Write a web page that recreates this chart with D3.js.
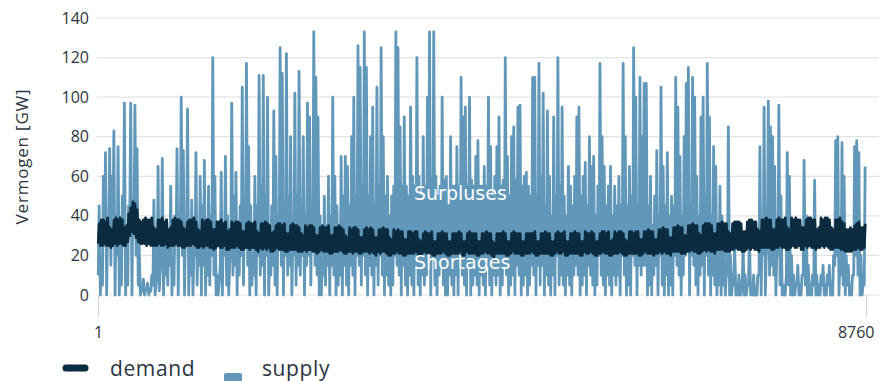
<!DOCTYPE html>
<html>
<head>
<meta charset="utf-8">
<script src="https://cdn.jsdelivr.net/npm/d3@7"></script>
<style>
  html, body { margin: 0; padding: 0; background: #ffffff; }
  svg { display: block; }
</style>
</head>
<body>
<svg id="chart" width="879" height="381"></svg>
<script>
// Hourly year profile, 1..8760 hours
const hourRange = [1, 8760];
const yTicks = [0, 20, 40, 60, 80, 100, 120, 140];
const xTickLabels = ["1", "8760"];
const legendLabels = ["demand", "supply"];
const areaLabels = ["Surpluses", "Shortages"];

// Supply, daytime maximum per day (GW)
const supplyPeak = [
  45,20,60,72,35,74,60,83,40,75,
  25,50,97,20,45,97,40,96,74,25,
  3,8,2,6,3,10,48,5,65,12,
  69,25,38,30,55,15,40,74,40,100,
  73,35,94,25,48,20,72,35,60,45,
  68,30,55,40,120,60,10,5,62,35,
  70,40,15,97,50,62,35,45,105,40,
  117,75,45,20,60,45,111,55,111,50,
  100,20,45,93,70,40,125,112,45,122,
  50,80,25,102,50,113,45,80,40,97,
  90,45,133,110,90,40,15,50,35,60,
  40,100,60,45,30,70,50,70,65,45,
  80,100,50,126,115,55,133,115,50,80,
  95,45,105,55,125,80,50,60,40,50,
  55,133,125,85,55,90,55,50,95,60,
  55,120,60,50,80,55,100,133,58,133,
  60,50,55,100,58,60,45,80,55,55,
  75,55,110,90,95,55,100,58,55,70,
  78,55,55,65,55,100,75,50,60,75,
  90,55,58,120,70,50,80,85,58,95,
  96,55,60,62,55,50,110,110,50,117,
  60,102,45,93,60,40,90,50,120,55,
  95,50,40,65,55,45,60,90,95,50,
  60,67,45,80,65,70,40,55,117,80,
  65,45,55,65,40,55,45,60,45,117,
  80,45,65,50,125,100,45,110,80,107,
  107,45,60,35,50,73,40,105,65,45,
  72,40,50,45,110,95,70,40,80,107,
  115,45,110,100,60,40,90,100,50,117,
  90,40,75,65,35,55,40,30,10,85,
  20,10,25,5,10,0,25,10,5,30,
  5,10,0,10,75,30,95,20,98,85,
  80,65,20,96,50,5,0,72,60,20,
  10,5,15,5,10,68,40,15,5,10,
  58,10,5,10,15,5,10,15,5,20,
  78,80,20,77,60,20,15,5,10,75,
  78,72,20,5,65
];

// Supply, night minimum per day (GW)
const supplyLow = [
  10,0,5,25,0,30,15,40,0,20,
  0,5,30,0,5,40,0,35,20,5,
  0,2,0,3,0,2,5,0,10,2,
  20,0,10,5,15,0,5,25,0,30,
  20,0,25,0,10,0,20,5,15,0,
  15,0,10,5,20,10,0,0,15,0,
  20,5,0,25,10,15,0,10,20,5,
  25,15,0,5,10,0,20,10,15,0,
  20,0,10,15,5,0,25,15,0,20,
  10,15,0,20,5,15,10,20,0,15,
  20,5,25,15,10,0,0,10,5,15,
  0,15,10,0,5,10,0,15,5,0,
  15,10,0,20,15,5,20,10,0,15,
  10,0,15,5,20,10,0,10,5,0,
  5,20,15,10,0,15,5,0,10,5,
  0,15,5,0,10,5,10,15,0,20,
  5,0,10,15,5,0,0,10,5,0,
  10,0,15,10,5,0,15,0,5,10,
  5,0,10,5,0,15,5,0,10,5,
  10,0,5,15,10,0,5,10,0,15,
  10,0,5,10,0,5,15,10,0,15,
  5,15,0,10,5,0,10,0,20,5,
  10,5,0,10,5,0,10,15,10,0,
  5,10,0,15,10,5,0,5,20,10,
  5,0,10,5,0,10,5,10,0,20,
  10,0,5,0,20,15,0,15,10,15,
  15,0,5,0,10,15,0,20,5,0,
  10,0,5,0,20,15,10,0,10,20,
  25,0,20,15,5,0,10,15,0,20,
  10,0,10,5,0,5,0,5,0,10,
  0,0,5,0,0,0,5,0,0,5,
  0,0,0,0,10,0,20,0,25,10,
  15,10,0,20,5,0,0,10,5,0,
  0,0,5,0,0,10,5,0,0,0,
  5,0,0,0,5,0,0,5,0,0,
  15,20,0,10,5,0,5,0,0,10,
  20,10,0,0,5
];

// Demand, daily peak (GW), week by week
const demandPeak = [
  36,38,38,37,39,34,33, 38,39,38,39,38,34,35, 41,44,47,46,43,38,37, 38,39,38,38,39,34,33,
  38,38,39,37,38,33,34, 38,39,38,38,37,34,33, 37,38,38,39,37,33,32, 38,37,38,38,37,33,33,
  37,37,38,36,37,32,33, 37,36,37,37,36,32,32, 36,37,36,36,37,32,31, 36,36,37,36,35,31,32,
  35,36,36,35,36,31,31, 35,36,35,35,34,31,30, 35,34,35,35,34,30,30, 34,35,34,34,35,30,30,
  34,34,35,34,33,30,29, 34,33,34,34,33,29,29, 33,34,33,34,33,29,29, 33,33,34,33,33,29,28,
  33,32,33,32,32,28,28, 32,32,31,32,32,28,27, 31,32,31,31,32,27,27, 31,31,32,31,31,27,27,
  31,31,31,32,31,27,27, 31,32,31,31,31,27,27, 31,31,32,31,31,27,26, 31,31,31,32,31,27,27,
  31,32,31,31,31,27,27, 31,31,31,31,32,27,27, 31,31,32,31,31,27,27, 31,32,31,31,32,27,27,
  31,31,32,31,31,27,27, 32,31,31,32,31,27,27, 31,32,32,31,32,27,28, 32,31,32,32,31,28,27,
  32,32,31,32,32,28,28, 32,32,33,32,32,28,28, 33,33,34,33,33,29,29, 34,34,35,34,34,30,30,
  35,35,36,35,35,31,30, 35,36,36,36,35,31,31, 36,36,37,36,36,32,31, 36,37,37,37,36,32,32,
  37,38,38,37,37,33,32, 38,38,39,38,38,33,33, 38,39,38,38,39,34,33, 39,38,39,38,38,34,34,
  38,39,39,38,38,33,34, 39,38,39,39,38,34,33, 38,38,39,37,36,33,33, 34,33,35,36,37,34,34,
  36
];

// Demand, daily night low (GW), week by week
const demandLow = [
  26,25,25,26,25,25,24, 25,26,25,26,26,25,25, 27,30,32,31,29,27,26, 26,26,25,26,25,25,25,
  25,26,25,25,26,24,25, 25,25,26,25,25,24,24, 25,25,25,26,25,24,24, 25,24,25,25,24,24,23,
  24,25,24,24,25,23,23, 24,24,24,25,24,23,23, 24,24,23,24,24,23,22, 24,23,24,23,24,22,22,
  23,24,23,23,23,22,22, 23,23,23,23,22,22,22, 23,22,23,23,22,22,21, 22,23,22,22,22,21,21,
  22,22,22,23,22,21,21, 22,22,21,22,22,21,21, 22,22,22,21,22,21,20, 22,21,22,22,21,20,20,
  21,21,22,21,21,20,20, 21,21,21,21,22,20,20, 21,22,21,21,21,20,20, 21,21,21,22,21,20,20,
  21,21,21,21,22,20,20, 22,21,21,21,21,20,20, 21,21,22,21,21,20,19, 21,21,21,21,21,20,20,
  21,22,21,21,21,20,20, 21,21,21,22,21,20,20, 21,21,21,21,21,20,20, 21,22,21,21,22,20,20,
  21,21,21,21,21,20,20, 22,21,21,22,21,20,20, 21,21,22,21,21,20,20, 21,21,21,22,21,20,20,
  21,21,21,21,21,20,20, 21,22,21,21,21,20,21, 21,22,21,22,21,21,20, 22,22,22,22,21,21,21,
  22,22,23,22,22,21,21, 22,23,22,23,22,22,21, 23,23,23,23,22,22,22, 23,23,24,23,23,22,22,
  23,24,23,24,23,23,22, 24,24,24,24,24,23,23, 24,24,25,24,24,23,23, 24,25,24,24,25,23,23,
  25,24,25,24,24,23,24, 24,25,24,25,24,23,23, 24,24,24,23,23,22,22, 22,22,23,23,24,23,23,
  24
];

const svg = d3.select("#chart");
const W = 879, H = 381;
const plot = { left: 98, right: 866, top: 18, bottom: 295 };

const x = d3.scaleLinear().domain(hourRange).range([plot.left, plot.right]);
const y = d3.scaleLinear().domain([0, 140]).range([plot.bottom, plot.top]);

const supplyColor = "#6198ba";
const demandColor = "#0a2b40";
const textColor = "#2b3440";
const gridColor = "#e3e3e3";

// horizontal gridlines across the full width
svg.append("g")
  .selectAll("line")
  .data(yTicks)
  .join("line")
  .attr("x1", plot.left - 1)
  .attr("x2", W)
  .attr("y1", d => y(d))
  .attr("y2", d => y(d))
  .attr("stroke", gridColor)
  .attr("stroke-width", 1.2);

// y axis labels
const yAxis = d3.axisLeft(y).tickValues(yTicks).tickSize(0).tickPadding(8);
const gy = svg.append("g").attr("transform", `translate(${plot.left - 1},0)`).call(yAxis);
gy.select(".domain").remove();
gy.selectAll("text")
  .attr("font-family", "'Open Sans', sans-serif")
  .attr("font-size", 16)
  .attr("fill", textColor);

// x axis: only first and last hour
const xAxis = d3.axisBottom(x).tickValues(hourRange).tickSize(22).tickPadding(10)
  .tickFormat((d, i) => xTickLabels[i]);
const gx = svg.append("g").attr("transform", `translate(0,${plot.bottom})`).call(xAxis);
gx.select(".domain").remove();
gx.selectAll("line").attr("stroke", "#d4d4d4").attr("stroke-width", 1.2);
gx.selectAll("text")
  .attr("font-family", "'Open Sans', sans-serif")
  .attr("font-size", 16)
  .attr("fill", textColor);
gx.selectAll("text").filter((d, i) => i === 1).attr("text-anchor", "end").attr("dx", 8);

// y axis title
svg.append("text")
  .attr("transform", `translate(28,${(plot.top + plot.bottom) / 2}) rotate(-90)`)
  .attr("text-anchor", "middle")
  .attr("font-family", "'Open Sans', sans-serif")
  .attr("font-size", 17)
  .attr("letter-spacing", 0.8)
  .attr("fill", textColor)
  .text("Vermogen [GW]");

// supply line: night minimum then daytime maximum for each day
const supplyPts = [];
supplyPeak.forEach((p, i) => {
  supplyPts.push([hourRange[0] + i * 24 + 3, supplyLow[i]]);
  supplyPts.push([hourRange[0] + i * 24 + 13, p]);
});
svg.append("path")
  .datum(supplyPts)
  .attr("fill", "none")
  .attr("stroke", supplyColor)
  .attr("stroke-width", 2.8)
  .attr("stroke-linejoin", "round")
  .attr("d", d3.line().x(d => x(d[0])).y(d => y(d[1])));

// demand line: night low and daytime peak for each day
const demandPts = [];
demandPeak.forEach((p, i) => {
  demandPts.push([hourRange[0] + i * 24 + 3, demandLow[i]]);
  demandPts.push([hourRange[0] + i * 24 + 14, p]);
});
svg.append("path")
  .datum(demandPts)
  .attr("fill", "none")
  .attr("stroke", demandColor)
  .attr("stroke-width", 2.8)
  .attr("stroke-linejoin", "round")
  .attr("d", d3.line().x(d => x(d[0])).y(d => y(d[1])));

// area annotations
svg.append("text")
  .attr("x", 414).attr("y", 200)
  .attr("font-family", "'DejaVu Sans', Verdana, sans-serif")
  .attr("font-size", 19)
  .attr("fill", "#ffffff")
  .text(areaLabels[0]);
svg.append("text")
  .attr("x", 414).attr("y", 269)
  .attr("font-family", "'DejaVu Sans', Verdana, sans-serif")
  .attr("font-size", 19)
  .attr("fill", "#ffffff")
  .text(areaLabels[1]);

// legend
svg.append("line")
  .attr("x1", 66).attr("x2", 85).attr("y1", 368).attr("y2", 368)
  .attr("stroke", demandColor).attr("stroke-width", 7).attr("stroke-linecap", "round");
svg.append("text")
  .attr("x", 110).attr("y", 376)
  .attr("font-family", "'Open Sans', sans-serif")
  .attr("font-size", 21)
  .attr("letter-spacing", 0.6)
  .attr("fill", textColor)
  .text(legendLabels[0]);
svg.append("rect")
  .attr("x", 224).attr("y", 373).attr("width", 18).attr("height", 12).attr("rx", 2)
  .attr("fill", supplyColor);
svg.append("text")
  .attr("x", 262).attr("y", 376)
  .attr("font-family", "'Open Sans', sans-serif")
  .attr("font-size", 21)
  .attr("letter-spacing", 0.6)
  .attr("fill", textColor)
  .text(legendLabels[1]);
</script>
</body>
</html>
